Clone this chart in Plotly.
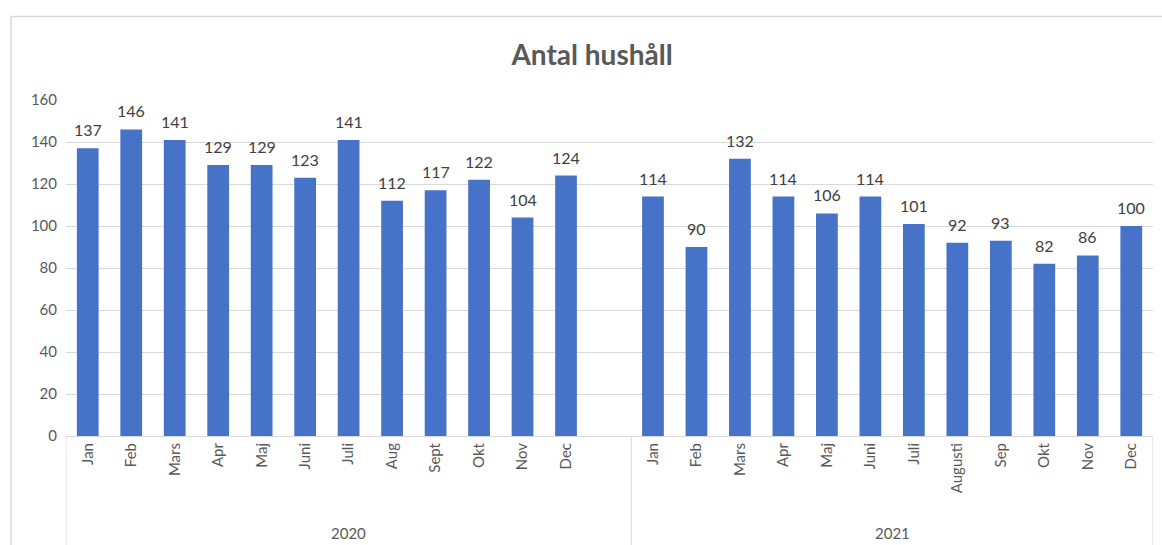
import plotly.graph_objects as go

title = "Antal hushåll"
months_2020 = ["Jan", "Feb", "Mars", "Apr", "Maj", "Juni", "Juli", "Aug", "Sept", "Okt", "Nov", "Dec"]
values_2020 = [137, 146, 141, 129, 129, 123, 141, 112, 117, 122, 104, 124]
months_2021 = ["Jan", "Feb", "Mars", "Apr", "Maj", "Juni", "Juli", "Augusti", "Sep", "Okt", "Nov", "Dec"]
values_2021 = [114, 90, 132, 114, 106, 114, 101, 92, 93, 82, 86, 100]
years = ["2020", "2021"]
y_ticks = [0, 20, 40, 60, 80, 100, 120, 140, 160]

# positions: 2020 months, one empty slot, then 2021 months
x2020 = list(range(len(months_2020)))
x2021 = [len(months_2020) + 1 + i for i in range(len(months_2021))]
n_slots = len(months_2020) + 1 + len(months_2021)
all_x = x2020 + x2021
all_y = values_2020 + values_2021

FONT = "Lato, 'Open Sans', sans-serif"
GRAY = "#595959"
LINE = "#d9d9d9"

fig = go.Figure()
fig.add_trace(go.Bar(
    x=all_x,
    y=all_y,
    width=0.5,
    marker=dict(color="#4672c8", line=dict(width=0)),
    hoverinfo="skip",
))

# data labels
for xv, yv in zip(all_x, all_y):
    fig.add_annotation(x=xv, y=yv, xref="x", yref="y", text=str(yv),
                       showarrow=False, yanchor="bottom", yshift=7,
                       font=dict(family=FONT, size=16, color="#404040"))

fig.update_layout(
    width=1162, height=545,
    margin=dict(l=66, r=9, t=100, b=109, autoexpand=False),
    paper_bgcolor="white", plot_bgcolor="white",
    showlegend=False,
    title=dict(text="<b>" + title + "</b>", x=0.5095, xanchor="center",
               y=1 - 55 / 545, yanchor="middle",
               font=dict(family=FONT, size=28, color=GRAY)),
    xaxis=dict(
        range=[-0.5, n_slots - 0.5],
        tickvals=all_x,
        ticktext=months_2020 + months_2021,
        tickangle=-90,
        tickfont=dict(family=FONT, size=15, color=GRAY),
        showgrid=False, zeroline=False,
        showline=True, linecolor=LINE, linewidth=1,
        ticks="", automargin=False,
    ),
    yaxis=dict(
        range=[0, 160],
        tickvals=y_ticks,
        tickfont=dict(family=FONT, size=15, color=GRAY),
        showgrid=True, gridcolor=LINE, gridwidth=1,
        zeroline=False, showline=False, ticks="", ticklabelstandoff=8,
        automargin=False,
    ),
    bargap=0.5,
)

# chart frame (top and left borders)
fig.add_shape(type="line", xref="paper", yref="paper",
              x0=(11 - 66) / 1087, x1=1.02, y0=(436 - 16.5) / 336, y1=(436 - 16.5) / 336,
              line=dict(color=LINE, width=1.5))
fig.add_shape(type="line", xref="paper", yref="paper",
              x0=(11 - 66) / 1087, x1=(11 - 66) / 1087, y0=(436 - 16.5) / 336, y1=-0.4,
              line=dict(color=LINE, width=1.5))

# group dividers
for xv in [-0.5, len(months_2020) + 0.5, n_slots - 0.5]:
    fig.add_shape(type="line", xref="x", yref="paper", x0=xv, x1=xv, y0=0, y1=-0.4,
                  line=dict(color=LINE, width=1))

# year labels
group_centers = [(-0.5 + len(months_2020) + 0.5) / 2, (len(months_2020) + 0.5 + n_slots - 0.5) / 2]
for yr, c in zip(years, group_centers):
    fig.add_annotation(x=c, xref="x", y=(436 - 533) / 336, yref="paper",
                       text=yr, showarrow=False, yanchor="middle",
                       font=dict(family=FONT, size=15, color=GRAY))

fig.write_html("out.html", config={"displayModeBar": False},
               post_script="document.body.style.margin='0';document.body.style.overflow='hidden';")
